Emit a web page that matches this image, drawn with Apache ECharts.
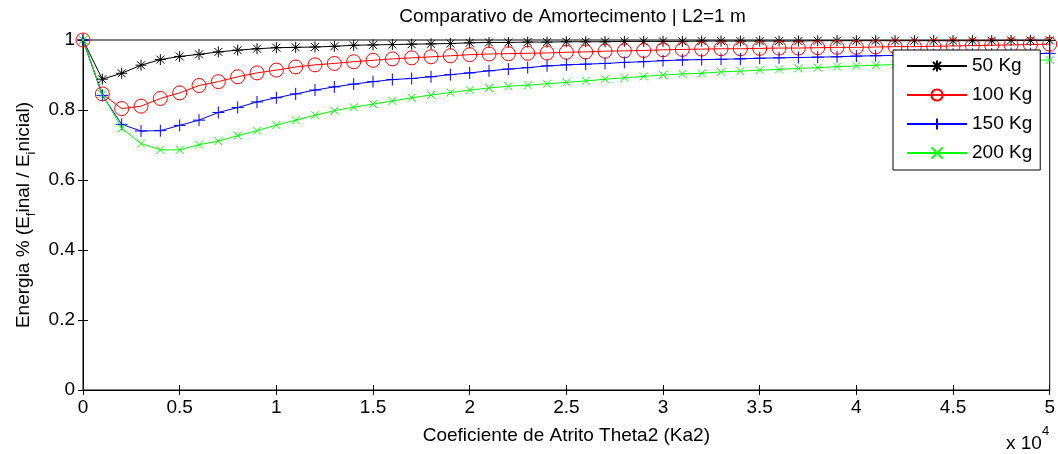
<!DOCTYPE html>
<html>
<head>
<meta charset="utf-8">
<script src="https://cdn.jsdelivr.net/npm/echarts@6/dist/echarts.min.js"></script>
<style>html,body{margin:0;padding:0;background:#fff;}#c{width:1058px;height:454px;}</style>
</head>
<body>
<div id="c"></div>
<script>
var xVals = [0,0.1,0.2,0.3,0.4,0.5,0.6,0.7,0.8,0.9,1,1.1,1.2,1.3,1.4,1.5,1.6,1.7,1.8,1.9,2,2.1,2.2,2.3,2.4,2.5,2.6,2.7,2.8,2.9,3,3.1,3.2,3.3,3.4,3.5,3.6,3.7,3.8,3.9,4,4.1,4.2,4.3,4.4,4.5,4.6,4.7,4.8,4.9,5];
var kg50 = [1.000,0.888,0.905,0.928,0.944,0.953,0.959,0.966,0.971,0.975,
0.978,0.979,0.980,0.982,0.985,0.986,0.987,0.988,0.989,0.990,
0.992,0.993,0.993,0.994,0.994,0.995,0.995,0.995,0.996,0.996,
0.996,0.996,0.997,0.997,0.997,0.997,0.997,0.997,0.998,0.998,
0.998,0.998,0.998,0.998,0.998,0.998,0.998,0.998,0.999,0.999,
0.999];
var kg100 = [1.000,0.846,0.804,0.811,0.833,0.849,0.870,0.881,0.895,0.906,
0.914,0.923,0.929,0.933,0.938,0.942,0.946,0.949,0.952,0.955,
0.958,0.960,0.961,0.962,0.963,0.965,0.966,0.968,0.969,0.970,
0.972,0.973,0.974,0.975,0.975,0.976,0.977,0.977,0.978,0.979,
0.979,0.980,0.981,0.981,0.982,0.983,0.984,0.985,0.986,0.987,
0.988];
var kg150 = [1.000,0.842,0.759,0.740,0.741,0.756,0.771,0.793,0.807,0.823,
0.835,0.846,0.857,0.866,0.874,0.881,0.887,0.890,0.895,0.901,
0.906,0.912,0.917,0.921,0.926,0.929,0.931,0.933,0.936,0.938,
0.941,0.943,0.944,0.945,0.946,0.948,0.949,0.950,0.951,0.952,
0.954,0.955,0.956,0.957,0.958,0.959,0.959,0.960,0.961,0.961,
0.962];
var kg200 = [1.000,0.845,0.748,0.704,0.686,0.686,0.701,0.711,0.727,0.741,
0.757,0.771,0.785,0.798,0.808,0.817,0.826,0.835,0.843,0.850,
0.857,0.863,0.868,0.871,0.875,0.879,0.883,0.888,0.892,0.896,
0.900,0.903,0.905,0.909,0.911,0.914,0.916,0.919,0.921,0.924,
0.926,0.928,0.930,0.932,0.934,0.936,0.937,0.939,0.940,0.942,
0.943];
var seriesNames = ['50 Kg','100 Kg','150 Kg','200 Kg'];
var titleText = 'Comparativo de Amortecimento | L2=1 m';
var xName = 'Coeficiente de Atrito Theta2 (Ka2)';

function pairs(ys){ return ys.map(function(y,i){ return [xVals[i], y]; }); }

var FONT = 'Liberation Sans';
var FS = 19;
var chart = echarts.init(document.getElementById('c'), null, {renderer:'canvas'});

function mkSeries(name, ys, color, symbol, size, fill){
  return {
    name: name, type: 'line', data: pairs(ys),
    xAxisIndex: 0, yAxisIndex: 0,
    symbol: symbol, symbolSize: size, showAllSymbol: true, symbolKeepAspect: true,
    lineStyle: {color: color, width: 1},
    itemStyle: {color: fill, borderColor: color, borderWidth: 1},
    emphasis: {disabled: true}, silent: true
  };
}

var tickCommon = {inside: true, length: 5, lineStyle: {color: '#000', width: 1}};
var lineCommon = {show: true, lineStyle: {color: '#000', width: 1}};

chart.setOption({
  animation: false,
  backgroundColor: '#fff',
  textStyle: {fontFamily: FONT},
  title: {
    text: titleText, left: 567.5, top: 2, textAlign: 'center',
    textStyle: {fontFamily: FONT, fontSize: FS, fontWeight: 'normal', color: '#000'}
  },
  grid: {left: 83, right: 6, top: 40, bottom: 64, show: true, borderColor: '#000', borderWidth: 1, backgroundColor: '#fff'},
  legend: {
    orient: 'vertical', left: 893, top: 50,
    data: seriesNames,
    backgroundColor: '#fff', borderColor: '#000', borderWidth: 1, borderRadius: 0,
    padding: [6, 8, 7, 13],
    itemWidth: 60, itemHeight: 14, itemGap: 9,
    textStyle: {fontFamily: FONT, fontSize: FS, color: '#000', lineHeight: 20},
    selectedMode: false
  },
  xAxis: [{
    type: 'value', min: 0, max: 5, interval: 0.5, position: 'bottom',
    name: xName, nameLocation: 'middle', nameGap: 36,
    nameTextStyle: {fontFamily: FONT, fontSize: FS, color: '#000'},
    axisLine: lineCommon, axisTick: tickCommon,
    axisLabel: {fontFamily: FONT, fontSize: FS, color: '#000', margin: 8},
    splitLine: {show: false}
  }, {
    type: 'value', min: 0, max: 5, interval: 0.5, position: 'top',
    axisLine: lineCommon, axisTick: tickCommon, axisLabel: {show: false}, splitLine: {show: false}
  }],
  yAxis: [{
    type: 'value', min: 0, max: 1, interval: 0.2, position: 'left',
    name: 'Energia % (E{sub|f}inal / E{sub|i}nicial)', nameLocation: 'middle', nameGap: 51,
    nameTextStyle: {
      fontFamily: FONT, fontSize: FS, color: '#000', lineHeight: 22, verticalAlign: 'top',
      rich: {sub: {fontFamily: FONT, fontSize: 13, color: '#000', lineHeight: 14, padding: [12, 0, 0, 0], verticalAlign: 'top'}}
    },
    axisLine: lineCommon, axisTick: tickCommon,
    axisLabel: {fontFamily: FONT, fontSize: FS, color: '#000', margin: 8},
    splitLine: {show: false}
  }, {
    type: 'value', min: 0, max: 1, interval: 0.2, position: 'right',
    axisLine: lineCommon, axisTick: tickCommon, axisLabel: {show: false}, splitLine: {show: false}
  }],
  graphic: [
    {type: 'text', left: 1006, top: 434, style: {text: 'x 10', fontFamily: FONT, fontSize: FS, fill: '#000'}},
    {type: 'text', left: 1042, top: 425, style: {text: '4', fontFamily: FONT, fontSize: 13, fill: '#000'}}
  ],
  series: [
    mkSeries(seriesNames[0], kg50, '#000000', 'path://M0,-5L0,5M-5,0L5,0M-3.6,-3.6L3.6,3.6M-3.6,3.6L3.6,-3.6', 11, 'transparent'),
    mkSeries(seriesNames[1], kg100, '#ff0000', 'circle', 14, 'transparent'),
    mkSeries(seriesNames[2], kg150, '#0000ff', 'path://M0,-5L0,5M-5,0L5,0', 12, 'transparent'),
    mkSeries(seriesNames[3], kg200, '#00ff00', 'path://M-4,-4L4,4M-4,4L4,-4', 8, 'transparent')
  ]
});
</script>
</body>
</html>
